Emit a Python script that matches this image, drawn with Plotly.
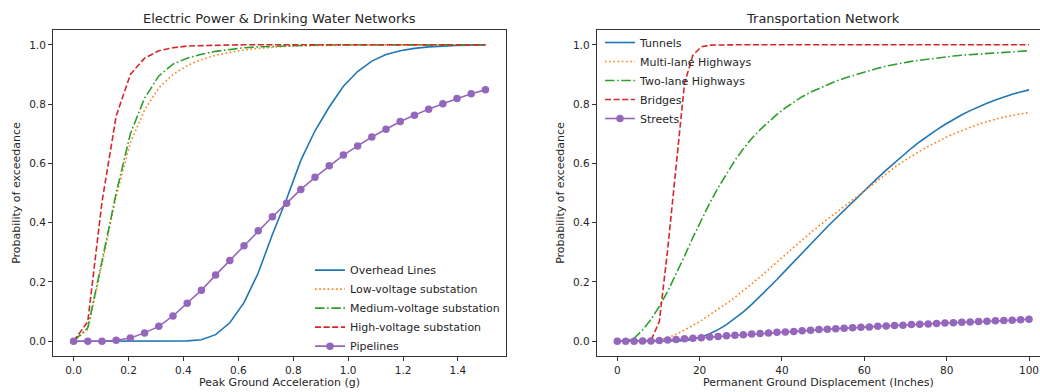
import numpy as np
import plotly.graph_objects as go

# ---------------- data: left panel (PGA, g) ----------------
pga = np.linspace(0, 1.5, 30)
overhead_lines = [0, 0, 0, 0, 0, 0, 0, 0, 0.001, 0.005, 0.022, 0.062, 0.13, 0.23,
                  0.36, 0.48, 0.61, 0.71, 0.79, 0.86, 0.91, 0.945, 0.967, 0.98,
                  0.988, 0.993, 0.996, 0.998, 0.999, 0.9995]
low_voltage = [0, 0.04, 0.26, 0.49, 0.67, 0.78, 0.855, 0.90, 0.93, 0.95, 0.965,
               0.975, 0.983, 0.988, 0.992, 0.995, 0.997, 0.998, 0.999, 0.9993,
               0.9995, 0.9997, 0.9998, 0.9999, 1, 1, 1, 1, 1, 1]
medium_voltage = [0, 0.045, 0.27, 0.50, 0.70, 0.82, 0.895, 0.935, 0.955, 0.968,
                  0.978, 0.985, 0.99, 0.993, 0.995, 0.997, 0.998, 0.999, 0.9994,
                  0.9996, 0.9998, 0.9999, 1, 1, 1, 1, 1, 1, 1, 1]
high_voltage = [0, 0.066, 0.47, 0.76, 0.90, 0.955, 0.98, 0.99, 0.996, 0.998,
                0.999, 0.9995, 1, 1, 1, 1, 1, 1, 1, 1, 1, 1, 1, 1, 1, 1, 1, 1, 1, 1]
pipelines = [0, 0, 0, 0.003, 0.011, 0.028, 0.05, 0.085, 0.128, 0.172, 0.223,
             0.272, 0.322, 0.373, 0.42, 0.465, 0.512, 0.553, 0.592, 0.628, 0.659,
             0.689, 0.715, 0.741, 0.762, 0.783, 0.801, 0.819, 0.835, 0.848]

# ---------------- data: right panel (PGD, inches) ----------------
pgd = np.linspace(0, 100, 50)
tunnels = [0, 0, 0, 0, 0, 0, 0, 0, 0.002, 0.007, 0.014, 0.025, 0.039, 0.056,
           0.076, 0.099, 0.124, 0.151, 0.179, 0.208, 0.238, 0.268, 0.298, 0.328,
           0.357, 0.386, 0.414, 0.442, 0.469, 0.497, 0.524, 0.551, 0.577, 0.602,
           0.627, 0.651, 0.673, 0.694, 0.713, 0.731, 0.748, 0.764, 0.778, 0.791,
           0.803, 0.814, 0.824, 0.833, 0.841, 0.848]
multi_lane = [0, 0, 0, 0, 0, 0.004, 0.012, 0.023, 0.037, 0.053, 0.07, 0.088,
              0.107, 0.127, 0.148, 0.17, 0.193, 0.217, 0.242, 0.267, 0.293,
              0.318, 0.343, 0.366, 0.389, 0.411, 0.433, 0.455, 0.478, 0.50,
              0.522, 0.544, 0.566, 0.586, 0.606, 0.624, 0.641, 0.657, 0.672,
              0.686, 0.699, 0.711, 0.722, 0.732, 0.741, 0.749, 0.756, 0.762,
              0.767, 0.771]
two_lane = [0, 0, 0.01, 0.037, 0.073, 0.117, 0.168, 0.225, 0.287, 0.35, 0.41,
            0.466, 0.518, 0.566, 0.61, 0.649, 0.684, 0.714, 0.741, 0.765, 0.787,
            0.807, 0.825, 0.84, 0.853, 0.866, 0.877, 0.887, 0.896, 0.905, 0.914,
            0.921, 0.928, 0.934, 0.939, 0.944, 0.948, 0.952, 0.956, 0.959, 0.962,
            0.965, 0.967, 0.969, 0.971, 0.973, 0.975, 0.977, 0.979, 0.98]
bridges = [0, 0, 0, 0, 0.002, 0.066, 0.31, 0.59, 0.87, 0.965, 0.993, 0.999,
           1, 1, 1, 1, 1, 1, 1, 1, 1, 1, 1, 1, 1, 1, 1, 1, 1, 1, 1, 1, 1, 1,
           1, 1, 1, 1, 1, 1, 1, 1, 1, 1, 1, 1, 1, 1, 1, 1]
streets = [0, 0, 0, 0.0003, 0.001, 0.002, 0.004, 0.006, 0.008, 0.010, 0.012,
           0.014, 0.016, 0.018, 0.020, 0.022, 0.024, 0.026, 0.028, 0.030, 0.031,
           0.033, 0.035, 0.037, 0.039, 0.040, 0.042, 0.044, 0.045, 0.047, 0.048,
           0.050, 0.051, 0.053, 0.054, 0.056, 0.057, 0.058, 0.060, 0.061, 0.062,
           0.064, 0.065, 0.066, 0.067, 0.069, 0.070, 0.071, 0.072, 0.074]

# ---------------- styles ----------------
BLUE, ORANGE, GREEN, RED, PURPLE = "#1f77b4", "#ff7f0e", "#2ca02c", "#d62728", "#9467bd"
LW = 1.6
DASH = "6px,2.6px"
DOT = "1.6px,2.6px"
DASHDOT = "9.5px,2.6px,1.6px,2.6px"
FONT = "DejaVu Sans"
TXT = "#262626"

fig = go.Figure()

def add(x, y, name, color, dash, xa, ya, legend, markers=False):
    fig.add_trace(go.Scatter(
        x=x, y=y, name=name, xaxis=xa, yaxis=ya, legend=legend,
        mode="lines+markers" if markers else "lines",
        line=dict(color=color, width=LW, dash=dash),
        marker=dict(size=7.5, color=color) if markers else None,
    ))

add(pga, overhead_lines, "Overhead Lines", BLUE, "solid", "x", "y", "legend")
add(pga, low_voltage, "Low-voltage substation", ORANGE, DOT, "x", "y", "legend")
add(pga, medium_voltage, "Medium-voltage substation", GREEN, DASHDOT, "x", "y", "legend")
add(pga, high_voltage, "High-voltage substation", RED, DASH, "x", "y", "legend")
add(pga, pipelines, "Pipelines", PURPLE, "solid", "x", "y", "legend", markers=True)

add(pgd, tunnels, "Tunnels", BLUE, "solid", "x2", "y2", "legend2")
add(pgd, multi_lane, "Multi-lane Highways", ORANGE, DOT, "x2", "y2", "legend2")
add(pgd, two_lane, "Two-lane Highways", GREEN, DASHDOT, "x2", "y2", "legend2")
add(pgd, bridges, "Bridges", RED, DASH, "x2", "y2", "legend2")
add(pgd, streets, "Streets", PURPLE, "solid", "x2", "y2", "legend2", markers=True)

W, H = 1040, 392
ML, MR, MT, MB = 53, 0, 30, 35.5
PW = W - ML - MR
PH = H - MT - MB

def px_x(p):
    return (p - ML) / PW

def px_y(p):
    return (H - MB - p) / PH

axis_common = dict(
    showgrid=False, zeroline=False, showline=True, linecolor="#333333", linewidth=1,
    ticks="outside", ticklen=4, tickwidth=1, tickcolor="#333333",
    tickfont=dict(family=FONT, size=10.5, color=TXT), automargin=False,
)
title_font = dict(family=FONT, size=11, color=TXT)

fig.update_layout(
    width=W, height=H,
    margin=dict(l=ML, r=MR, t=MT, b=MB),
    paper_bgcolor="white", plot_bgcolor="white",
    font=dict(family=FONT, color=TXT),
    xaxis=dict(axis_common, domain=[0, px_x(506)], range=[-0.075, 1.575],
               tickvals=[0, 0.2, 0.4, 0.6, 0.8, 1.0, 1.2, 1.4], tickformat=".1f",
               mirror=True, anchor="y",
               title=dict(text="Peak Ground Acceleration (g)", standoff=2, font=title_font)),
    yaxis=dict(axis_common, domain=[0, 1], range=[-0.05, 1.05],
               tickvals=[0, 0.2, 0.4, 0.6, 0.8, 1.0], tickformat=".1f",
               mirror=True, anchor="x",
               title=dict(text="Probability of exceedance", standoff=6, font=title_font)),
    xaxis2=dict(axis_common, domain=[px_x(596.7), 1], range=[-5, 102.67],
                tickvals=[0, 20, 40, 60, 80, 100],
                mirror=True, anchor="y2",
                title=dict(text="Permanent Ground Displacement (Inches)", standoff=2,
                           font=title_font)),
    yaxis2=dict(axis_common, domain=[0, 1], range=[-0.05, 1.05],
                tickvals=[0, 0.2, 0.4, 0.6, 0.8, 1.0], tickformat=".1f",
                anchor="x2",
                title=dict(text="Probability of exceedance", standoff=6, font=title_font)),
    legend=dict(x=px_x(310), y=px_y(256), xanchor="left", yanchor="top",
                bgcolor="rgba(255,255,255,0)", borderwidth=0,
                font=dict(family=FONT, size=11, color=TXT)),
    legend2=dict(x=px_x(600), y=px_y(28), xanchor="left", yanchor="top",
                 bgcolor="rgba(255,255,255,0)", borderwidth=0,
                 font=dict(family=FONT, size=11, color=TXT)),
    annotations=[
        dict(text="Electric Power & Drinking Water Networks", x=px_x(279.5), y=px_y(18),
             xref="paper", yref="paper", showarrow=False, xanchor="center", yanchor="middle",
             font=dict(family=FONT, size=13, color=TXT)),
        dict(text="Transportation Network", x=px_x(823.3), y=px_y(18),
             xref="paper", yref="paper", showarrow=False, xanchor="center", yanchor="middle",
             font=dict(family=FONT, size=13, color=TXT)),
    ],
)

fig.write_html("out.html", config={"displayModeBar": False},
               post_script="document.body.style.margin='0px';")
